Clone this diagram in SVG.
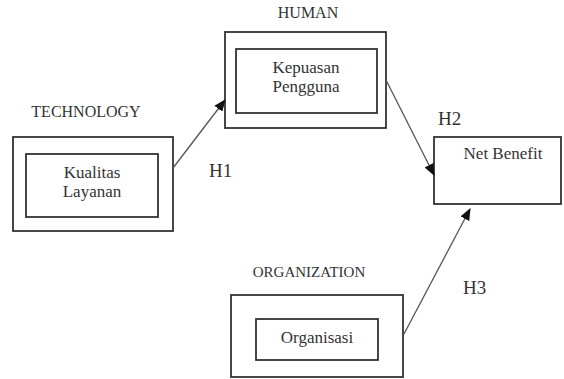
<svg xmlns="http://www.w3.org/2000/svg" width="564" height="379" viewBox="0 0 564 379">
<style>
.box{fill:none;stroke:#333;stroke-width:1.8}
.t{font-family:"Liberation Serif",serif;fill:#333;text-anchor:middle}
.n{font-size:17px}
.c{font-size:16px}
.h{font-size:19px;font-family:"Liberation Serif",serif;fill:#333}
.e{stroke:#555;stroke-width:1.3;fill:none;marker-end:url(#ah)}
</style>
<defs>
<marker id="ah" markerWidth="12" markerHeight="10" refX="11" refY="5" orient="auto" markerUnits="userSpaceOnUse">
<path d="M0,0 L12,5 L0,10 Z" fill="#111"/>
</marker>
</defs>
<rect width="564" height="379" fill="#fff"/>
<g id="technology">
<text class="t c" x="86" y="117">TECHNOLOGY</text>
<rect class="box" x="13" y="137" width="160" height="94"/>
<rect class="box" x="26" y="154" width="132" height="63"/>
<text class="t n" x="92" y="178">Kualitas</text>
<text class="t n" x="92" y="197">Layanan</text>
</g>
<g id="human">
<text class="t c" x="308" y="18">HUMAN</text>
<rect class="box" x="225" y="32" width="161" height="96"/>
<rect class="box" x="236" y="49" width="141" height="64"/>
<text class="t n" x="306" y="73">Kepuasan</text>
<text class="t n" x="306" y="92">Pengguna</text>
</g>
<g id="netbenefit">
<rect class="box" x="434" y="137" width="127" height="67"/>
<text class="t n" x="503" y="159">Net Benefit</text>
</g>
<g id="organization">
<text class="t" style="font-size:15px" x="309" y="277">ORGANIZATION</text>
<rect class="box" x="231" y="295" width="172" height="82"/>
<rect class="box" x="256" y="319" width="122" height="41"/>
<text class="t n" x="317" y="343">Organisasi</text>
</g>
<g id="connectors">
<line class="e" x1="173" y1="168" x2="225" y2="100"/>
<line class="e" x1="386" y1="80" x2="434" y2="175"/>
<line class="e" x1="404" y1="334" x2="470" y2="209"/>
<text class="h" x="209" y="177">H1</text>
<text class="h" x="438" y="125">H2</text>
<text class="h" x="463" y="294">H3</text>
</g>
</svg>
